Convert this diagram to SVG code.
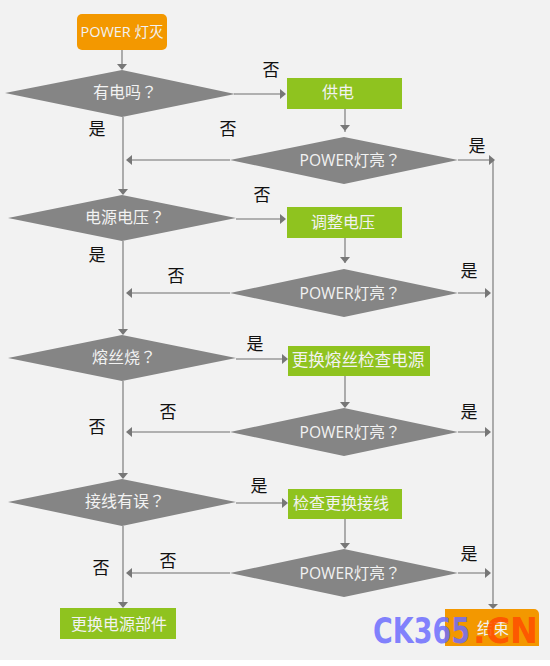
<svg xmlns="http://www.w3.org/2000/svg" width="550" height="666" viewBox="0 0 550 666">
<style>
.d{fill:#858585}
.g{fill:#8fc31f}
.o{fill:#f39800}
.t{font-family:"Open Sans","Noto Sans CJK SC",sans-serif;font-size:16px;fill:#f2f2f2;text-anchor:middle}
.p{font-size:15.6px}
.q{font-family:"Noto Sans CJK TC",sans-serif}
.l{font-family:"Noto Sans CJK SC",sans-serif;font-size:17px;fill:#111;text-anchor:middle}
.c{fill:none;stroke:#9a9a9a;stroke-width:1.6}
.a{fill:#777}
.w{font-family:"DejaVu Sans",sans-serif;font-weight:700;font-size:36px}
</style>
<rect width="550" height="660" fill="#f2f2f2"/>
<rect y="660" width="550" height="6" fill="#fff"/>
<g id="connectors">
<path class="c" d="M122 50V66M123 117V191M234 94H283M345 109V132M230 160H131M458 160H491M493 160V604M123 241V331M236 219H283M345 238V263M230 293H131M458 293H487M123 381V475M236 359H284M345 376V403M230 432H131M458 432H487M123 526V604M236 503H284M345 519V544M230 573H131M458 573H487"/>
<g class="a">
<path d="M117 64h10l-5 6z"/>
<path d="M118 189h10l-5 6z"/>
<path d="M118 329h10l-5 6z"/>
<path d="M118 473h10l-5 6z"/>
<path d="M118 602h10l-5 6z"/>
<path d="M280 89v10l6-5z"/>
<path d="M280 214v10l6-5z"/>
<path d="M282 354v10l6-5z"/>
<path d="M282 498v10l6-5z"/>
<path d="M340 125h10l-5 6z"/>
<path d="M340 257h10l-5 6z"/>
<path d="M340 402h10l-5 6z"/>
<path d="M340 543h10l-5 6z"/>
<path d="M132 155v10l-6-5z"/>
<path d="M132 288v10l-6-5z"/>
<path d="M132 427v10l-6-5z"/>
<path d="M132 568v10l-6-5z"/>
<path d="M489 155v10l6-5z"/>
<path d="M485 288v10l6-5z"/>
<path d="M485 427v10l6-5z"/>
<path d="M485 568v10l6-5z"/>
<path d="M488 604h10l-5 5z"/>
</g>
</g>
<g id="start"><rect class="o" x="77" y="14" width="90" height="36" rx="5"/><text class="t" style="font-size:14.5px" x="122" y="37">POWER 灯灭</text></g>
<g id="q1"><path class="d" d="M5 93L122 70L235 94L122 117z"/><text class="t" x="125" y="98">有电吗<tspan class="q">？</tspan></text></g>
<g id="q1a"><path class="d" d="M230 160L344 137L458 160L344 184z"/><text class="t p" x="350" y="166">POWER灯亮<tspan class="q">？</tspan></text></g>
<g id="q2"><path class="d" d="M8 218L122 195L236 218L122 241z"/><text class="t" x="125" y="223">电源电压<tspan class="q">？</tspan></text></g>
<g id="q2a"><path class="d" d="M230 293L344 269L458 293L344 317z"/><text class="t p" x="350" y="299">POWER灯亮<tspan class="q">？</tspan></text></g>
<g id="q3"><path class="d" d="M8 358L122 335L236 358L122 381z"/><text class="t" x="124" y="363">熔丝烧<tspan class="q">？</tspan></text></g>
<g id="q3a"><path class="d" d="M230 432L344 408L458 432L344 456z"/><text class="t p" x="350" y="438">POWER灯亮<tspan class="q">？</tspan></text></g>
<g id="q4"><path class="d" d="M8 502L122 479L236 502L122 526z"/><text class="t" x="125" y="507">接线有误<tspan class="q">？</tspan></text></g>
<g id="q4a"><path class="d" d="M230 573L344 549L458 573L344 597z"/><text class="t p" x="350" y="579">POWER灯亮<tspan class="q">？</tspan></text></g>
<g id="b1"><rect class="g" x="287" y="78" width="115" height="31"/><text class="t" x="338" y="98">供电</text></g>
<g id="b2"><rect class="g" x="287" y="207" width="115" height="31"/><text class="t" x="343" y="228">调整电压</text></g>
<g id="b3"><rect class="g" x="288" y="346" width="142" height="30"/><text class="t" style="font-size:16.6px" x="358" y="366">更换熔丝检查电源</text></g>
<g id="b4"><rect class="g" x="288" y="489" width="114" height="30"/><text class="t" x="341" y="509">检查更换接线</text></g>
<g id="b5"><rect class="g" x="60" y="608" width="116" height="31"/><text class="t" x="119" y="630">更换电源部件</text></g>
<g id="end"><path class="o" d="M445 609H534a5 5 0 0 1 5 5V646H445z"/><text class="t" x="493" y="634">结束</text></g>
<g id="labels">
<text class="l" x="271" y="76">否</text>
<text class="l" x="97" y="135">是</text>
<text class="l" x="228" y="135">否</text>
<text class="l" x="477" y="152">是</text>
<text class="l" x="262" y="201">否</text>
<text class="l" x="97" y="261">是</text>
<text class="l" x="176" y="282">否</text>
<text class="l" x="469" y="277">是</text>
<text class="l" x="255" y="350">是</text>
<text class="l" x="168" y="418">否</text>
<text class="l" x="97" y="433">否</text>
<text class="l" x="469" y="418">是</text>
<text class="l" x="259" y="492">是</text>
<text class="l" x="168" y="567">否</text>
<text class="l" x="101" y="574">否</text>
<text class="l" x="469" y="560">是</text>
</g>
<g id="watermark">
<text class="w" x="373" y="643" fill="#6d6dff" fill-opacity="0.85" textLength="97" lengthAdjust="spacingAndGlyphs">CK365</text>
<text class="w" x="473" y="643" fill="#ff5000" fill-opacity="0.9" textLength="65" lengthAdjust="spacingAndGlyphs">.CN</text>
</g>
</svg>
